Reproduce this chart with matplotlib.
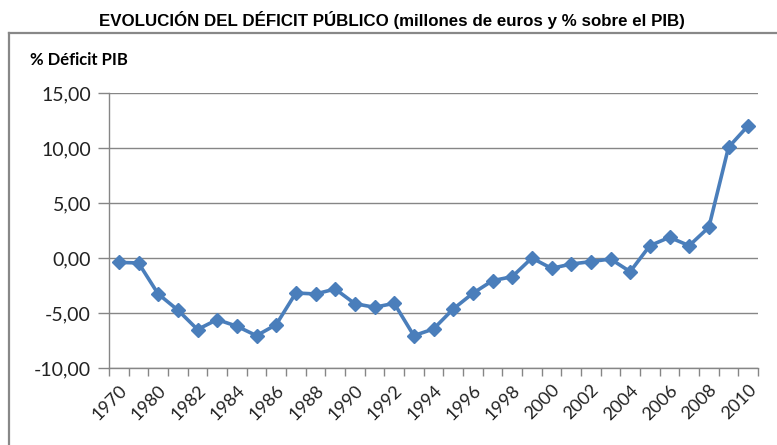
import matplotlib
matplotlib.use("Agg")
import matplotlib.pyplot as plt
from matplotlib.lines import Line2D
import numpy as np

# Data
years = ["1970", "1975", "1980", "1981", "1982", "1983", "1984", "1985", "1986",
         "1987", "1988", "1989", "1990", "1991", "1992", "1993", "1994", "1995",
         "1996", "1997", "1998", "1999", "2000", "2001", "2002", "2003", "2004",
         "2005", "2006", "2007", "2008", "2009", "2010"]
deficit = [-0.4, -0.45, -3.27, -4.73, -6.5, -5.6, -6.2, -7.06, -6.06,
           -3.18, -3.27, -2.82, -4.15, -4.48, -4.12, -7.06, -6.45, -4.64,
           -3.21, -2.06, -1.70, 0.0, -0.94, -0.55, -0.33, -0.09, -1.24,
           1.12, 1.88, 1.12, 2.79, 10.06, 12.03]
yticks = [-10, -5, 0, 5, 10, 15]
ytick_labels = ["-10,00", "-5,00", "0,00", "5,00", "10,00", "15,00"]

W, H = 777, 445
fig = plt.figure(figsize=(W / 100, H / 100), dpi=100)
ax = fig.add_axes([109 / W, 1 - 368 / H, (758 - 109) / W, (368 - 93) / H])

x = np.arange(len(years))
ax.plot(x, deficit, color="#4A7EBB", lw=2.6, marker="D", markersize=7,
        markerfacecolor="#4A7EBB", markeredgecolor="#4A7EBB", zorder=3)

ax.set_xlim(-0.5, len(years) - 0.5)
ax.set_ylim(-10, 15)
grid_c = "#868686"
ax.set_yticks(yticks)
ax.set_yticklabels(ytick_labels, fontsize=14, fontfamily="Lato", color="#222222")
ax.tick_params(axis="y", length=8, color=grid_c, width=1, pad=5)
ax.yaxis.grid(True, color=grid_c, lw=1)
ax.set_axisbelow(True)

ax.set_xticks(x[::2])
ax.set_xticklabels(years[::2], rotation=45, ha="right", va="top",
                   rotation_mode="anchor", fontsize=13, fontfamily="Lato",
                   color="#222222")
ax.tick_params(axis="x", which="major", length=0, pad=10)
ax.set_xticks(np.arange(len(years) + 1) - 0.5, minor=True)
ax.tick_params(axis="x", which="minor", length=6, color=grid_c, width=1)

for s in ["top", "right"]:
    ax.spines[s].set_visible(False)
for s in ["left", "bottom"]:
    ax.spines[s].set_color(grid_c)
    ax.spines[s].set_linewidth(1)

fig.text(392 / W, 1 - 20 / H,
         "EVOLUCIÓN DEL DÉFICIT PÚBLICO (millones de euros y % sobre el PIB)",
         ha="center", va="center", fontsize=12.2, fontweight="bold",
         fontfamily="Liberation Sans", color="black")
fig.text(30 / W, 1 - 60 / H, "% Déficit PIB", ha="left", va="center",
         fontsize=12, fontweight="bold", fontfamily="Lato", color="black")

frame_c = "#888888"
fig.add_artist(Line2D([8.5 / W, 8.5 / W], [0, 1 - 33 / H], transform=fig.transFigure,
                      color=frame_c, lw=1.6))
fig.add_artist(Line2D([8.5 / W, 1], [1 - 33 / H, 1 - 33 / H], transform=fig.transFigure,
                      color=frame_c, lw=1.6))

fig.savefig("out.png", dpi=100)
